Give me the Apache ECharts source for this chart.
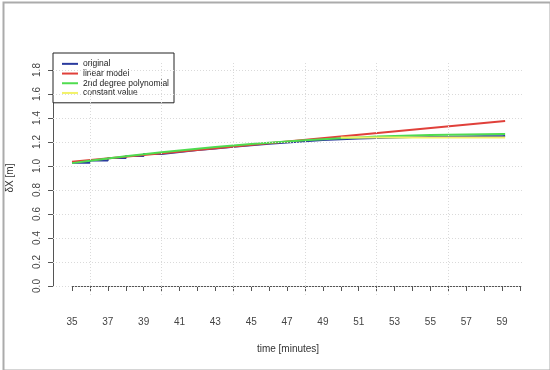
<!DOCTYPE html>
<html><head><meta charset="utf-8">
<script src="https://cdn.jsdelivr.net/npm/echarts@6/dist/echarts.min.js"></script>
<style>html,body{margin:0;padding:0;background:#fff}#c{width:550px;height:370px}</style>
</head><body><div id="c"></div>
<script>
// ---- data ----
const minutes = [35,36,37,38,39,40,41,42,43,44,45,46,47,48,49,50,51,52,53,54,55,56,57,58,59,59.17];
const originalValues = [1.026,1.046,1.065,1.083,1.100,1.116,1.132,1.146,1.160,1.173,1.185,1.196,1.206,1.215,1.222,1.228,1.233,1.237,1.240,1.243,1.245,1.247,1.248,1.249,1.250,1.250];
const polyValues = [1.024,1.044,1.063,1.081,1.098,1.114,1.130,1.144,1.158,1.171,1.183,1.194,1.205,1.215,1.223,1.231,1.238,1.245,1.250,1.255,1.258,1.261,1.263,1.265,1.266,1.266];
const linearX = [35, 59.17];
const linearValues = [1.036, 1.374];
const constantX = [50, 59.17];
const constantValues = [1.237, 1.237];
const xTicksLabelled = [35,37,39,41,43,45,47,49,51,53,55,57,59];
const yTicks = [0,0.2,0.4,0.6,0.8,1.0,1.2,1.4,1.6,1.8];
const xGrid = [36,40,44,48,52,56];
const seriesNames = ['original','linear model','2nd degree polynomial','constant value'];

const zip = (xs, ys) => xs.map((x, i) => [x, ys[i]]);
const FONT = 'Liberation Sans, Arial, sans-serif';
const colors = ['#2a3a9e', '#e0403a', '#4fdc4f', '#f2f268'];

const chart = echarts.init(document.getElementById('c'), null, {renderer: 'canvas'});
chart.setOption({
  animation: false,
  backgroundColor: '#fff',
  textStyle: {fontFamily: FONT},
  grid: [
    {left: 53, right: 27, top: 61, bottom: 75, show: false},
    {left: 72, right: 30, top: 70, bottom: 84, show: false}
  ],
  xAxis: [
    {gridIndex: 0, type: 'value', min: 35 - 19/17.92, max: 60 + 3/17.92, show: false},
    {gridIndex: 1, type: 'value', min: 35, max: 60, interval: 1, offset: 19,
     axisLine: {show: true, lineStyle: {color: '#555', width: 1}},
     axisTick: {show: true, length: 5, lineStyle: {color: '#555'}},
     splitLine: {show: false},
     axisLabel: {margin: 12, fontSize: 10, color: '#444', fontFamily: FONT,
       formatter: v => xTicksLabelled.includes(v) ? String(v) : ''}}
  ],
  yAxis: [
    {gridIndex: 0, type: 'value', min: -9/120, max: 1.8 + 9/120, show: false},
    {gridIndex: 1, type: 'value', min: 0, max: 1.8, interval: 0.2, offset: 19,
     axisLine: {show: true, lineStyle: {color: '#555', width: 1}},
     axisTick: {show: true, length: 5, lineStyle: {color: '#555'}},
     splitLine: {show: false},
     axisLabel: {margin: 11, fontSize: 10, color: '#444', rotate: 90, fontFamily: FONT,
       formatter: v => v.toFixed(1)}}
  ],
  legend: {
    data: seriesNames, orient: 'vertical', left: 53, top: 53,
    padding: [6, 5, 5, 9], itemGap: 0, itemWidth: 16, itemHeight: 2, icon: 'rect',
    borderColor: '#222', borderWidth: 1, borderRadius: 0, backgroundColor: '#fff',
    textStyle: {fontSize: 8.5, lineHeight: 9.7, color: '#222', fontFamily: FONT}
  },
  series: [
    {type: 'line', name: '_grid', xAxisIndex: 0, yAxisIndex: 0, data: [], silent: true,
     markLine: {silent: true, symbol: 'none', animation: false, label: {show: false},
       lineStyle: {color: '#dadada', type: [1, 2], width: 1},
       data: xGrid.map(v => ({xAxis: v})).concat(yTicks.map(v => ({yAxis: v})))}},
    {type: 'line', name: seriesNames[0], xAxisIndex: 1, yAxisIndex: 1, step: 'end',
     data: zip(minutes, originalValues), showSymbol: false, clip: false,
     lineStyle: {color: colors[0], width: 1.8}, itemStyle: {color: colors[0]}},
    {type: 'line', name: seriesNames[1], xAxisIndex: 1, yAxisIndex: 1,
     data: zip(linearX, linearValues), showSymbol: false, clip: false,
     lineStyle: {color: colors[1], width: 2}, itemStyle: {color: colors[1]}},
    {type: 'line', name: seriesNames[2], xAxisIndex: 1, yAxisIndex: 1,
     data: zip(minutes, polyValues), showSymbol: false, clip: false,
     lineStyle: {color: colors[2], width: 2}, itemStyle: {color: colors[2]}},
    {type: 'line', name: seriesNames[3], xAxisIndex: 1, yAxisIndex: 1,
     data: zip(constantX, constantValues), showSymbol: false, clip: false,
     lineStyle: {color: colors[3], width: 2}, itemStyle: {color: colors[3]}}
  ],
  graphic: [
    {type: 'rect', left: 1, top: 0, z: 100, silent: true,
     shape: {width: 547, height: 368},
     style: {fill: 'none', stroke: '#ababab', lineWidth: 2}},
    {type: 'text', x: 10, y: 178, rotation: Math.PI / 2,
     style: {text: 'δX [m]', fontSize: 10, fill: '#333', fontFamily: FONT, align: 'center', verticalAlign: 'middle'}},
    {type: 'text', x: 288, y: 349,
     style: {text: 'time [minutes]', fontSize: 10, fill: '#333', fontFamily: FONT, align: 'center', verticalAlign: 'middle'}}
  ]
});
</script></body></html>
